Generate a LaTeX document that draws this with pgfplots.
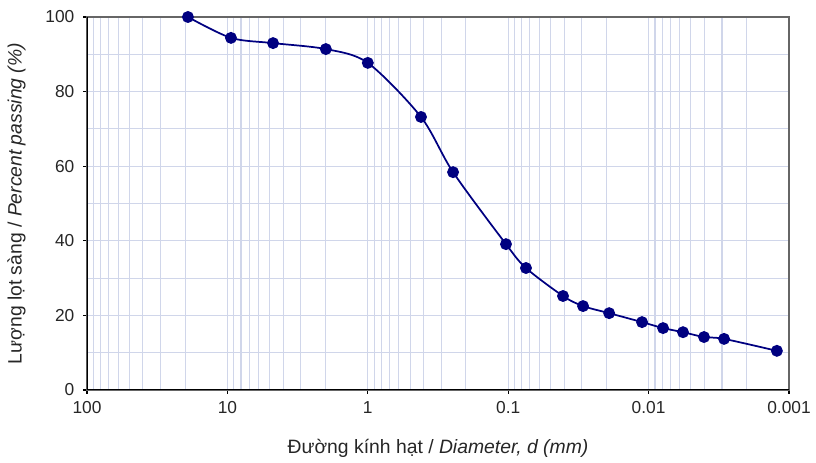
\documentclass[border=0pt]{standalone}
\usepackage{pgfplots}
\pgfplotsset{compat=1.18}
\usepackage{fontspec}
\setmainfont{Liberation Sans}

\definecolor{navyline}{RGB}{0,0,128}
\definecolor{gridblue}{RGB}{208,214,234}

\begin{document}
\begin{tikzpicture}
  % fixed page frame (816 x 463 px at 0.75pt/px)
  \path (-65.25pt,-54.75pt) rectangle (546.75pt,292.5pt);
  \begin{axis}[
    at={(0,0)}, anchor=south west,
    scale only axis,
    width=526.5pt, height=279.75pt,
    xmode=log, x dir=reverse,
    xmin=0.001, xmax=100,
    ymin=0, ymax=100,
    xtick={100,10,1,0.1,0.01,0.001},
    xticklabels={100,10,1,0.1,0.01,0.001},
    minor xtick={20,30,40,50,60,70,80,90,
                 2,3,4,5,6,7,8,9,
                 0.2,0.3,0.4,0.5,0.6,0.7,0.8,0.9,
                 0.02,0.03,0.04,0.05,0.06,0.07,0.08,0.09,
                 0.002,0.003,0.004,0.005,0.006,0.007,0.008,0.009},
    ytick={0,20,...,100},
    minor ytick={10,30,50,70,90},
    grid=both,
    major grid style={gridblue, line width=0.8pt},
    minor grid style={gridblue, line width=0.8pt},
    tick pos=left,
    tick align=outside,
    major tick length=3pt,
    minor tick length=0pt,
    tick style={black, line width=0.8pt},
    axis line style={black!60, line width=1.2pt},
    ticklabel style={font=\fontsize{13}{15}\selectfont, text=black!85},
    /pgf/number format/assume math mode=true,
    yticklabel style={xshift=-3pt},
    xticklabel style={yshift=-2pt},
    xlabel={Đường kính hạt / \textit{Diameter, d (mm)}},
    ylabel={Lượng lọt sàng / \textit{Percent passing (\%)}},
    label style={font=\fontsize{14.5}{16}\selectfont, text=black!85},
    xlabel style={yshift=-12pt},
    ylabel style={yshift=8pt},
  ]
    \addplot[navyline, line width=1.3pt, smooth, tension=0.5,
             mark=*, mark size=3.8pt, mark options={fill=navyline, draw=navyline}]
      coordinates {
        (19.1,100) (9.43,94.4) (4.73,93.0) (1.99,91.4) (1.0,87.7)
        (0.418,73.2) (0.247,58.4) (0.1037,39.1) (0.0747,32.7)
        (0.0407,25.2) (0.0293,22.5) (0.0191,20.6) (0.01114,18.2)
        (0.00789,16.6) (0.00569,15.5) (0.00403,14.2) (0.0029,13.7)
        (0.00122,10.5)
      };
    \draw[black, line width=2.2pt] (rel axis cs:0,1) -- (rel axis cs:0,0) -- (rel axis cs:1,0);
  \end{axis}
\end{tikzpicture}
\end{document}
